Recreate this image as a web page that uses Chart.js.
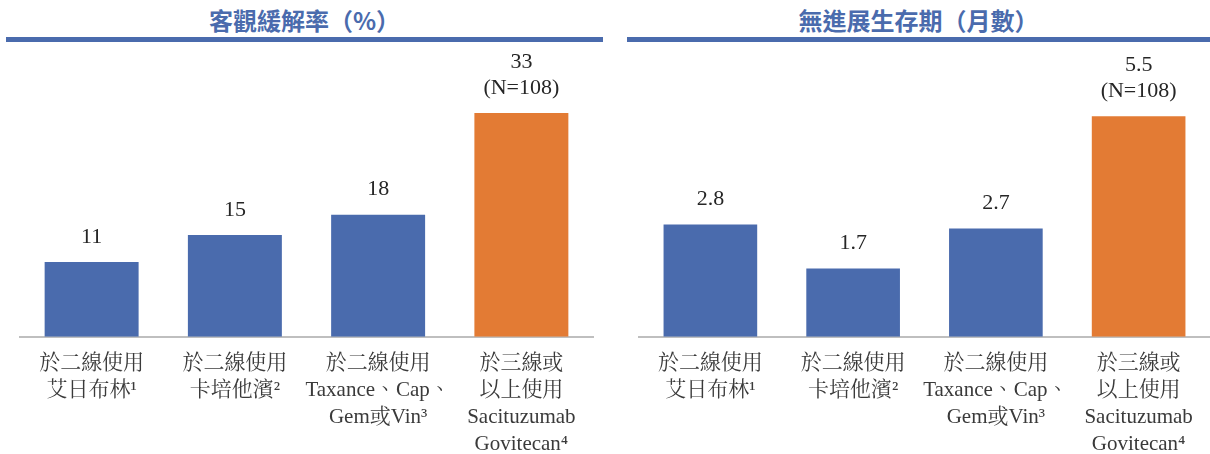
<!DOCTYPE html>
<html><head><meta charset="utf-8">
<script src="https://cdn.jsdelivr.net/npm/chart.js@4/dist/chart.umd.min.js"></script>
<style>
html,body{margin:0;padding:0;background:#fff;}
#wrap{position:relative;width:1210px;height:454px;overflow:hidden;}
.title{position:absolute;top:4px;height:32px;line-height:32px;text-align:center;color:#4A6BAD;font-family:'Noto Sans CJK TC','Noto Sans CJK SC',sans-serif;font-weight:700;font-size:24px;}
.rule{position:absolute;top:37px;height:5px;background:#4A6BAD;}
canvas{position:absolute;top:0;}
</style></head><body>
<div id="wrap">
  <div class="title" id="t1" style="left:6px;width:597px;"></div>
  <div class="rule" style="left:6px;width:597px;"></div>
  <div class="title" id="t2" style="left:627px;width:583px;"></div>
  <div class="rule" style="left:627px;width:583px;"></div>
  <div style="position:absolute;left:0;top:0;width:605px;height:471px;"><canvas id="c1"></canvas></div>
  <div style="position:absolute;left:610px;top:0;width:600px;height:471px;"><canvas id="c2"></canvas></div>
</div>
<script>
const categories = [
  ['於二線使用','艾日布林¹'],
  ['於二線使用','卡培他濱²'],
  ['於二線使用','Taxance、Cap、','Gem或Vin³'],
  ['於三線或','以上使用','Sacituzumab','Govitecan⁴']
];
const titleORR = '客觀緩解率（%）';
const titlePFS = '無進展生存期（月數）';
const orrValues = [11, 15, 18, 33];
const pfsValues = [2.8, 1.7, 2.7, 5.5];
const valueNotes = ['', '', '', '(N=108)'];
const barColors = ['#4A6BAD','#4A6BAD','#4A6BAD','#E37B34'];

document.getElementById('t1').textContent = titleORR;
document.getElementById('t2').textContent = titlePFS;

const serif = "'Liberation Serif','Noto Serif CJK TC','Noto Sans CJK TC',serif";

const valueLabels = {
  id:'valueLabels',
  afterDatasetsDraw(chart){
    const ctx = chart.ctx;
    const meta = chart.getDatasetMeta(0);
    const vals = chart.data.datasets[0].data;
    ctx.save();
    ctx.font = '22px ' + serif;
    ctx.fillStyle = '#262626';
    ctx.textAlign = 'center';
    ctx.textBaseline = 'middle';
    meta.data.forEach((bar,i)=>{
      const lines = [String(vals[i])];
      if (valueNotes[i]) lines.push(valueNotes[i]);
      let y = bar.y - 25 - (lines.length-1)*26;
      lines.forEach(l=>{ ctx.fillText(l, bar.x, y); y += 26; });
    });
    ctx.restore();
  }
};

function makeChart(id, values, yMax, padL, padR){
  return new Chart(document.getElementById(id), {
    type:'bar',
    data:{labels:categories, datasets:[{data:values, backgroundColor:barColors, borderWidth:0, barPercentage:0.656, categoryPercentage:1}]},
    options:{
      responsive:true, maintainAspectRatio:false, animation:false,
      layout:{padding:{top:50,left:padL,right:padR,bottom:0}},
      plugins:{legend:{display:false}, tooltip:{enabled:false}},
      scales:{
        x:{
          grid:{display:false, drawTicks:false},
          border:{display:true,color:'#BFBFBF',width:2},
          ticks:{autoSkip:false,maxRotation:0,minRotation:0,padding:13,color:'#3A3A3A',
                 font:{family:serif,size:21,lineHeight:1.29}}
        },
        y:{display:false,min:0,max:yMax}
      }
    },
    plugins:[valueLabels]
  });
}
makeChart('c1', orrValues, 42.3, 20, 12);
makeChart('c2', pfsValues, 7.15, 29, 0);
</script>
</body></html>
